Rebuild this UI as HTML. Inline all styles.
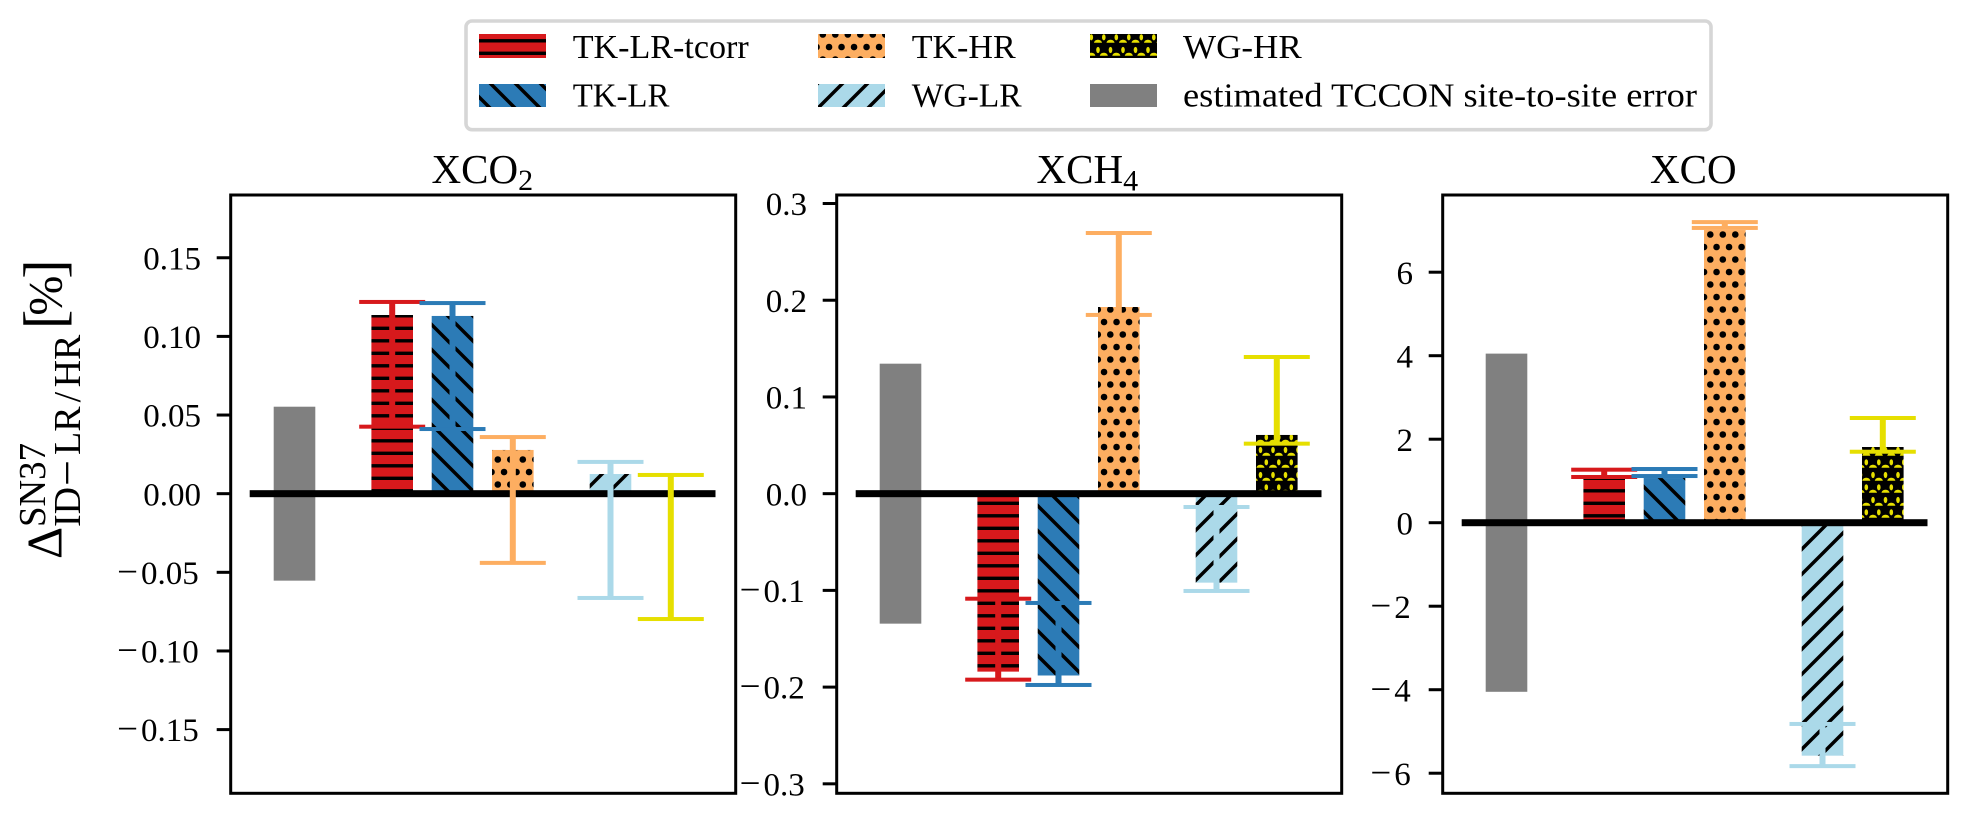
<!DOCTYPE html>
<html lang="en">
<head>
<meta charset="utf-8">
<title>TCCON differences chart</title>
<style>
html,body{margin:0;padding:0;background:#fff;}
svg{display:block;}
text{font-family:"Liberation Serif","DejaVu Serif",serif;fill:#000;}
</style>
</head>
<body>
<svg id="chart" xmlns="http://www.w3.org/2000/svg" width="1968" height="814" viewBox="0 0 1968 814">
  <defs>
    <pattern id="h-red" patternUnits="userSpaceOnUse" x="0" y="0" width="25" height="25">
      <rect width="25" height="25" fill="#d7191c"/>
      <rect y="1.6" width="25" height="3.4" fill="#000"/>
      <rect y="14.1" width="25" height="3.4" fill="#000"/>
    </pattern>
    <pattern id="h-blue" patternUnits="userSpaceOnUse" x="0" y="0" width="25" height="25">
      <rect width="25" height="25" fill="#2c7bb6"/>
      <path d="M-5 -12L30 23M-5 13L30 48M-5 -37L30 -2" stroke="#000" stroke-width="3.5" fill="none"/>
    </pattern>
    <pattern id="h-orange" patternUnits="userSpaceOnUse" x="0" y="0" width="25" height="25">
      <rect width="25" height="25" fill="#fdae61"/>
      <circle cx="10.3" cy="9.5" r="3.3" fill="#000"/>
      <circle cx="22.8" cy="9.5" r="3.3" fill="#000"/>
      <circle cx="-2.2" cy="9.5" r="3.3" fill="#000"/>
      <circle cx="4.05" cy="22" r="3.3" fill="#000"/>
      <circle cx="16.55" cy="22" r="3.3" fill="#000"/>
      <circle cx="4.05" cy="-3" r="3.3" fill="#000"/>
      <circle cx="16.55" cy="-3" r="3.3" fill="#000"/>
    </pattern>
    <pattern id="h-lightblue" patternUnits="userSpaceOnUse" x="0" y="0" width="25" height="25">
      <rect width="25" height="25" fill="#abd9e9"/>
      <path d="M-5 6L5 -4M-5 31L30 -4M-5 56L30 21" stroke="#000" stroke-width="3.5" fill="none"/>
    </pattern>
    <pattern id="h-yellow" patternUnits="userSpaceOnUse" x="0" y="0" width="25" height="25">
      <rect width="25" height="25" fill="#000"/>
      <g fill="#e6df00">
        <ellipse cx="3.8" cy="12.3" rx="1.8" ry="3.1"/>
        <ellipse cx="16.3" cy="12.3" rx="1.8" ry="3.1"/>
        <ellipse cx="10.5" cy="0" rx="1.8" ry="3.1"/>
        <ellipse cx="23" cy="0" rx="1.8" ry="3.1"/>
        <ellipse cx="10.5" cy="25" rx="1.8" ry="3.1"/>
        <ellipse cx="23" cy="25" rx="1.8" ry="3.1"/>
        <path d="M6.5 17.8C7 13.8 14 13.8 14.5 17.8Z"/>
        <path d="M19 17.8C19.5 13.8 26.5 13.8 27 17.8Z"/>
        <path d="M-6 17.8C-5.5 13.8 1.5 13.8 2 17.8Z"/>
        <path d="M-0.2 5.8C0.3 1.8 7.3 1.8 7.8 5.8Z"/>
        <path d="M12.3 5.8C12.8 1.8 19.8 1.8 20.3 5.8Z"/>
        <path d="M24.8 5.8C25.3 1.8 32.3 1.8 32.8 5.8Z"/>
      </g>
    </pattern>
  </defs>

  <g id="legend">
    <rect x="466" y="21" width="1245" height="108.7" rx="6" fill="#fff" stroke="#d6d6d6" stroke-width="3.6"/>
    <g>
      <rect x="479" y="34" width="67" height="24" fill="url(#h-red)"/>
      <text x="572.7" y="58" font-size="34" textLength="176" lengthAdjust="spacingAndGlyphs">TK-LR-tcorr</text>
    </g>
    <g>
      <rect x="479" y="84" width="67" height="23" fill="url(#h-blue)"/>
      <text x="572.7" y="106.7" font-size="34" textLength="96.7" lengthAdjust="spacingAndGlyphs">TK-LR</text>
    </g>
    <g>
      <rect x="818" y="34" width="67" height="24" fill="url(#h-orange)"/>
      <text x="911.7" y="58" font-size="34" textLength="104" lengthAdjust="spacingAndGlyphs">TK-HR</text>
    </g>
    <g>
      <rect x="818" y="84" width="67" height="23" fill="url(#h-lightblue)"/>
      <text x="911.7" y="106.7" font-size="34" textLength="110" lengthAdjust="spacingAndGlyphs">WG-LR</text>
    </g>
    <g>
      <rect x="1090" y="34" width="67" height="24" fill="url(#h-yellow)"/>
      <text x="1183" y="58" font-size="34" textLength="118.7" lengthAdjust="spacingAndGlyphs">WG-HR</text>
    </g>
    <g>
      <rect x="1090" y="84" width="67" height="23" fill="#808080"/>
      <text x="1183" y="106.7" font-size="34" textLength="514" lengthAdjust="spacingAndGlyphs">estimated TCCON site-to-site error</text>
    </g>
  </g>

  <g id="y-title">
    <text transform="translate(61.7 559) rotate(-90)" font-size="50">Δ</text>
    <text transform="translate(45 527) rotate(-90)" font-size="38" textLength="84" lengthAdjust="spacingAndGlyphs">SN37</text>
    <text transform="translate(80 527) rotate(-90)" font-size="38">ID<tspan dx="1" dy="2.5" font-size="46">−</tspan><tspan dx="5" dy="-2.5">LR</tspan><tspan dx="4">/</tspan><tspan dx="4.4">HR</tspan></text>
    <text transform="translate(63.6 329) rotate(-90)" font-size="58"><tspan>[</tspan><tspan font-size="48" dx="-6" dy="-2">%</tspan><tspan dx="-3" dy="2">]</tspan></text>
  </g>

  <text x="431.5" y="183" font-size="41">XCO<tspan font-size="30" dy="7">2</tspan></text>
  <text x="1036.5" y="183" font-size="41">XCH<tspan font-size="30" dy="7.5">4</tspan></text>
  <text x="1650" y="183" font-size="41">XCO</text>

  <g id="plots"></g>
</svg>

<script>
/* ---------- chart data ---------- */
const panelNames = ['xco2', 'xch4', 'xco'];
const categories = ['TK-LR-tcorr', 'TK-LR', 'TK-HR', 'WG-LR', 'WG-HR'];
const categoryKeys = ['tk-lr-tcorr', 'tk-lr', 'tk-hr', 'wg-lr', 'wg-hr'];

const xco2Values = [0.1136, 0.113, 0.0278, 0.0125, 0];
const xco2ErrHigh = [0.1219, 0.1212, 0.036, 0.0202, 0.0119];
const xco2ErrLow = [0.0426, 0.0411, -0.044, -0.0663, -0.0797];
const xco2SiteError = 0.0553;
const xco2Ticks = [-0.15, -0.10, -0.05, 0, 0.05, 0.10, 0.15];
const xco2TickLabels = ['−0.15', '−0.10', '−0.05', '0.00', '0.05', '0.10', '0.15'];
const xco2Limits = [-0.1905, 0.1899];

const xch4Values = [-0.184, -0.188, 0.193, -0.092, 0.0607];
const xch4ErrHigh = [-0.1086, -0.113, 0.2695, -0.0138, 0.1413];
const xch4ErrLow = [-0.1923, -0.1978, 0.1848, -0.1006, 0.0517];
const xch4SiteError = 0.1344;
const xch4Ticks = [-0.3, -0.2, -0.1, 0, 0.1, 0.2, 0.3];
const xch4TickLabels = ['−0.3', '−0.2', '−0.1', '0.0', '0.1', '0.2', '0.3'];
const xch4Limits = [-0.3098, 0.3088];

const xcoValues = [1.047, 1.07, 7.01, -5.58, 1.813];
const xcoErrHigh = [1.27, 1.286, 7.2, -4.82, 2.508];
const xcoErrLow = [1.095, 1.118, 7.06, -5.83, 1.7];
const xcoSiteError = 4.05;
const xcoTicks = [-6, -4, -2, 0, 2, 4, 6];
const xcoTickLabels = ['−6', '−4', '−2', '0', '2', '4', '6'];
const xcoLimits = [-6.481, 7.849];

/* ---------- layout and styles ---------- */
const PLOT_TOP = 195, PLOT_BOTTOM = 793.3, PLOT_WIDTH = 505, PLOT_FIRST_LEFT = 230.7, PLOT_STEP = 606;
const BAR_WIDTH = 41.6, SLOT_STEP = 60.3, GROUP_GAP = 37.4, FIRST_SLOT = 63.8;
const SVG_NS = 'http://www.w3.org/2000/svg';
const fills = { 'tk-lr-tcorr': 'url(#h-red)', 'tk-lr': 'url(#h-blue)', 'tk-hr': 'url(#h-orange)', 'wg-lr': 'url(#h-lightblue)', 'wg-hr': 'url(#h-yellow)' };
const errColors = { 'tk-lr-tcorr': '#d7191c', 'tk-lr': '#2c7bb6', 'tk-hr': '#fdae61', 'wg-lr': '#abd9e9', 'wg-hr': '#e6df00' };
/* which bar group each category belongs to (grey bar is group 0) */
const groupOf = [1, 1, 1, 2, 2];

function make(tag, parent, attrs) {
  const node = document.createElementNS(SVG_NS, tag);
  for (const k in attrs) node.setAttribute(k, attrs[k]);
  parent.appendChild(node);
  return node;
}

function drawPanel(panelIndex, values, errHigh, errLow, siteError, ticks, tickLabels, limits) {
  const plots = document.getElementById('plots');
  const name = panelNames[panelIndex];
  const left = PLOT_FIRST_LEFT + PLOT_STEP * panelIndex;
  const yScale = function (v) {
    return PLOT_TOP + (limits[1] - v) / (limits[1] - limits[0]) * (PLOT_BOTTOM - PLOT_TOP);
  };
  const xScale = function (slot, group) {
    return left + FIRST_SLOT + slot * SLOT_STEP + group * GROUP_GAP;
  };

  const panel = make('g', plots, {});
  
  

  /* site-to-site error bar */
  const siteBar = make('rect', panel, {
    x: xScale(0, 0) - BAR_WIDTH / 2,
    y: yScale(siteError),
    width: BAR_WIDTH,
    height: yScale(-siteError) - yScale(siteError),
    fill: '#808080'
  });
  
  

  /* value bars */
  values.forEach(function (v, i) {
    const key = categoryKeys[i];
    const top = Math.min(yScale(v), yScale(0));
    const bar = make('rect', panel, {
      x: xScale(i + 1, groupOf[i]) - BAR_WIDTH / 2,
      y: top,
      width: BAR_WIDTH,
      height: Math.abs(yScale(v) - yScale(0)),
      fill: fills[key]
    });
    
    
  });

  /* zero line */
  const zero = make('rect', panel, {
    x: left + 19,
    y: yScale(0) - 3.5,
    width: 465.8,
    height: 7,
    fill: '#000'
  });
  
  

  /* error bars */
  values.forEach(function (v, i) {
    const key = categoryKeys[i];
    const cx = xScale(i + 1, groupOf[i]);
    const hi = yScale(errHigh[i]);
    const lo = yScale(errLow[i]);
    const group = make('g', panel, { fill: errColors[key] });
    
    
    make('rect', group, { x: cx - 3, y: hi, width: 6, height: lo - hi });
    make('rect', group, { x: cx - 33, y: hi - 2, width: 66, height: 4 });
    make('rect', group, { x: cx - 33, y: lo - 2, width: 66, height: 4 });
  });

  /* ticks and labels */
  ticks.forEach(function (t, i) {
    const y = yScale(t);
    const tick = make('rect', panel, { x: left - 14, y: y - 1.5, width: 14, height: 3, fill: '#000' });
    
    
    const label = tickLabels[i];
    const negative = label.charAt(0) === '−';
    const text = make('text', panel, {
      x: left - (negative ? 32 : 29.7),
      y: y + 11.6,
      'font-size': 33,
      'text-anchor': 'end'
    });
    
    
    if (negative) {
      const minus = make('tspan', text, { 'font-size': 37, 'font-weight': 'normal' });
      minus.textContent = '−';
      const rest = make('tspan', text, { dx: 3 });
      rest.textContent = label.slice(1);
    } else {
      text.textContent = label;
    }
  });

  /* frame */
  const frame = make('rect', panel, {
    x: left,
    y: PLOT_TOP,
    width: PLOT_WIDTH,
    height: PLOT_BOTTOM - PLOT_TOP,
    fill: 'none',
    stroke: '#000',
    'stroke-width': 3
  });
  
  
}

drawPanel(0, xco2Values, xco2ErrHigh, xco2ErrLow, xco2SiteError, xco2Ticks, xco2TickLabels, xco2Limits);
drawPanel(1, xch4Values, xch4ErrHigh, xch4ErrLow, xch4SiteError, xch4Ticks, xch4TickLabels, xch4Limits);
drawPanel(2, xcoValues, xcoErrHigh, xcoErrLow, xcoSiteError, xcoTicks, xcoTickLabels, xcoLimits);
</script>
</body>
</html>
